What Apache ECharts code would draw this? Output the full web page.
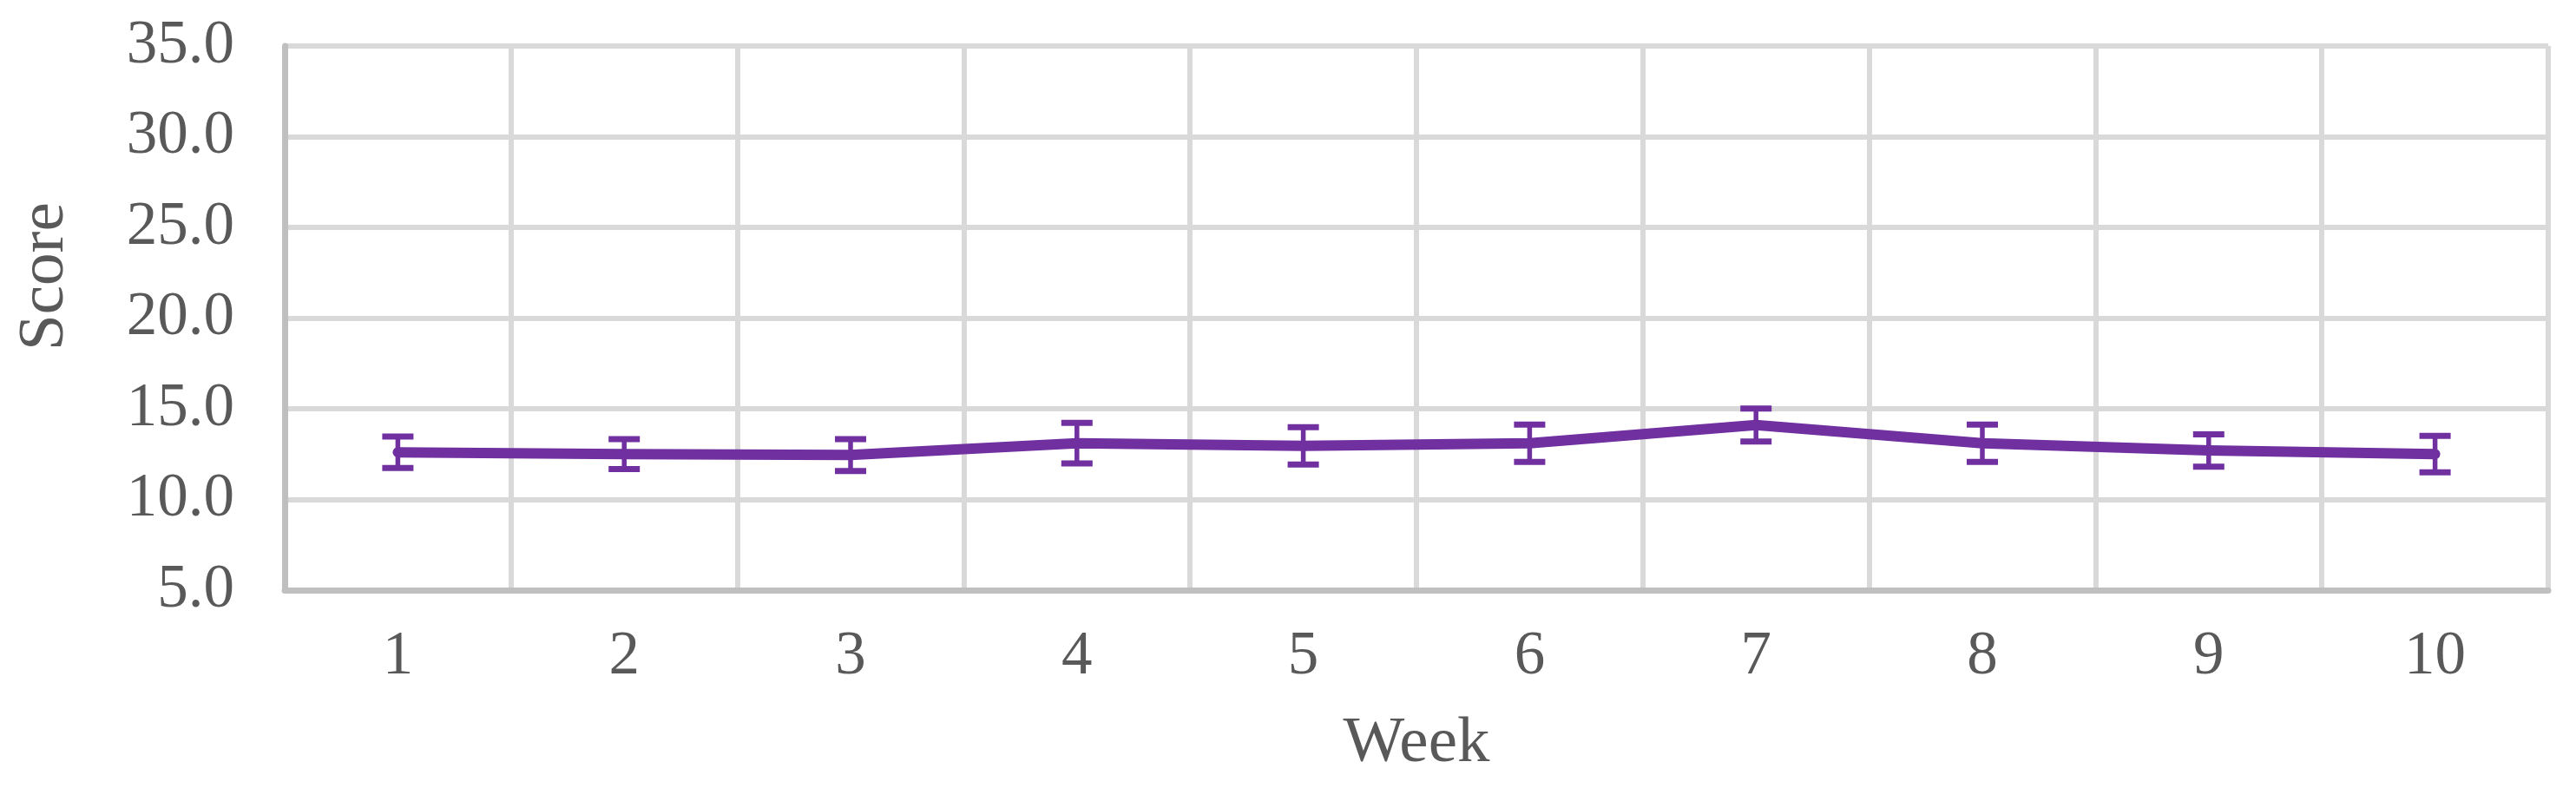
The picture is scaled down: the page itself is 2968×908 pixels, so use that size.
<!DOCTYPE html>
<html>
<head>
<meta charset="utf-8">
<title>Score by week</title>
<script src="https://cdn.jsdelivr.net/npm/echarts@6/dist/echarts.min.js"></script>
<style>
  html, body { margin: 0; padding: 0; background: #fff; }
  #chart { width: 2968px; height: 908px; }
</style>
</head>
<body>
<div id="chart"></div>
<script>
// weekly score, mean with error bars
const weeks = ['1', '2', '3', '4', '5', '6', '7', '8', '9', '10']
const scores = [12.6, 12.5, 12.45, 13.1, 12.95, 13.1, 14.1, 13.1, 12.7, 12.5]
const errors = [0.87, 0.82, 0.88, 1.12, 1.03, 1.03, 0.91, 1.03, 0.89, 1.0]
const yTicks = [5, 10, 15, 20, 25, 30, 35]

const purple = '#7030A0'
const textColor = '#595959'
const font = "'Liberation Serif', 'Times New Roman', serif"

const chart = echarts.init(document.getElementById('chart'))

const errorData = scores.map((v, i) => [i, v - errors[i], v + errors[i]])

const options = {
  animation: false,
  grid: {
    left: 328,
    right: 32,
    top: 53,
    bottom: 228,
  },
  xAxis: {
    type: 'category',
    data: weeks,
    boundaryGap: true,
    name: 'Week',
    nameLocation: 'middle',
    nameGap: 140,
    nameTextStyle: {
      color: textColor,
      fontFamily: font,
      fontSize: 75,
    },
    axisLabel: {
      color: textColor,
      fontFamily: font,
      fontSize: 71,
      margin: 42,
    },
    axisTick: { show: false },
    axisLine: {
      lineStyle: { color: '#BFBFBF', width: 7 }
    },
    splitLine: {
      show: true,
      interval: 0,
      lineStyle: { color: '#D9D9D9', width: 6 }
    },
  },
  yAxis: {
    type: 'value',
    min: yTicks[0],
    max: yTicks[yTicks.length - 1],
    interval: 5,
    name: 'Score',
    nameLocation: 'middle',
    nameGap: 238,
    nameTextStyle: {
      color: textColor,
      fontFamily: font,
      fontSize: 75,
      padding: [0, 0, 0, 96],
    },
    axisLabel: {
      color: textColor,
      fontFamily: font,
      fontSize: 71,
      margin: 58,
      formatter: v => v.toFixed(1),
    },
    axisTick: { show: false },
    axisLine: {
      show: true,
      lineStyle: { color: '#BFBFBF', width: 7 }
    },
    splitLine: {
      show: true,
      lineStyle: { color: '#D9D9D9', width: 6 }
    },
  },
  series: [
    {
      type: 'line',
      data: scores,
      showSymbol: false,
      symbol: 'none',
      lineStyle: { color: purple, width: 12, cap: 'round', join: 'round' },
      z: 3,
    },
    {
      type: 'custom',
      data: errorData,
      z: 4,
      renderItem: (params, api) => {
        const x = api.value(0)
        const lo = api.coord([x, api.value(1)])
        const hi = api.coord([x, api.value(2)])
        const half = 18
        const style = { stroke: purple, lineWidth: 7, fill: null }
        return {
          type: 'group',
          children: [
            { type: 'line', shape: { x1: hi[0], y1: hi[1], x2: lo[0], y2: lo[1] }, style: { stroke: purple, lineWidth: 5.5 } },
            { type: 'line', shape: { x1: hi[0] - half, y1: hi[1], x2: hi[0] + half, y2: hi[1] }, style },
            { type: 'line', shape: { x1: lo[0] - half, y1: lo[1], x2: lo[0] + half, y2: lo[1] }, style },
          ]
        }
      },
    },
  ],
}
chart.setOption(options)
</script>
</body>
</html>
